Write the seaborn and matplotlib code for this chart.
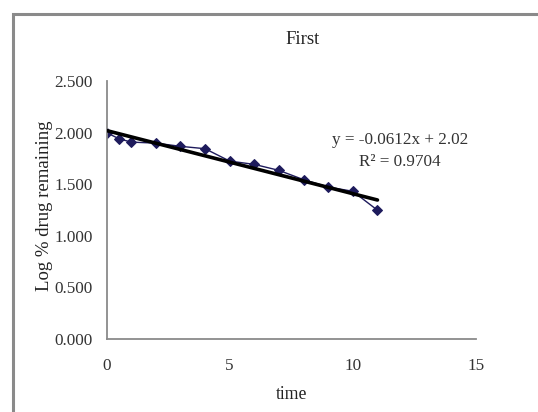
import numpy as np
import pandas as pd
import seaborn as sns
import matplotlib
matplotlib.use("Agg")
import matplotlib.pyplot as plt
from matplotlib.patches import Rectangle

# Data
time = [0, 0.5, 1, 2, 3, 4, 5, 6, 7, 8, 9, 10, 11]
log_remaining = [2.000, 1.941, 1.908, 1.898, 1.867, 1.844, 1.724, 1.692,
                 1.634, 1.544, 1.473, 1.431, 1.248]
slope = -0.0612
intercept = 2.02
r2 = 0.9704
x_ticks = [0, 5, 10, 15]
y_ticks = [0.0, 0.5, 1.0, 1.5, 2.0, 2.5]

sns.set_style("white")
plt.rcParams['font.family'] = ['Liberation Serif', 'DejaVu Serif']

df = pd.DataFrame({"time": time, "log": log_remaining})

fig = plt.figure(figsize=(5.38, 4.12), dpi=100)
ax = fig.add_axes([106.5 / 538, 73 / 412, 369.5 / 538, 258 / 412])

# outer chart frame (left and top edges visible)
fig.add_artist(Rectangle((13 / 538, -0.02), 1.2, (412 - 14) / 412 + 0.02,
                         transform=fig.transFigure, fill=False,
                         edgecolor="#8a8a8a", linewidth=2.2))

navy = "#1e1b5c"
sns.lineplot(data=df, x="time", y="log", ax=ax, color=navy, linewidth=1.0,
             marker="D", markersize=5.5, markeredgecolor=navy,
             markerfacecolor=navy)

trend_x = np.array([min(time), max(time)])
trend_y = intercept + slope * trend_x
ax.plot(trend_x, trend_y, color="black", linewidth=2.6, zorder=3)

ax.set_xlim(0, 15)
ax.set_ylim(0, 2.5)
ax.set_xticks(x_ticks)
ax.set_yticks(y_ticks)
ax.set_yticklabels([f"{v:.3f}" for v in y_ticks])
ax.tick_params(axis="both", labelsize=12.3, colors="#8a8a8a",
               labelcolor="#333333", length=4, width=1)
ax.tick_params(axis="y", direction="out", pad=6)
ax.tick_params(axis="x", direction="inout", pad=12)

for side in ["top", "right"]:
    ax.spines[side].set_visible(False)
for side in ["left", "bottom"]:
    ax.spines[side].set_color("#8a8a8a")
    ax.spines[side].set_linewidth(1.3)

ax.set_xlabel("time", fontsize=12.7, color="#222222", labelpad=8)
ax.set_ylabel("Log % drug remaining", fontsize=13.5, color="#222222")
ax.yaxis.set_label_coords((45 - 106.5) / 369.5, (339 - 206) / 258)
ax.yaxis.label.set_va("center")

fig.text(303 / 538, 1 - 40 / 412, "First", ha="center", va="center",
         fontsize=13.5, color="#222222")

fig.text(400 / 538, 1 - 140 / 412, f"y = {slope}x + {intercept}",
         ha="center", va="center", fontsize=12.3, color="#333333")
fig.text(400 / 538, 1 - 162 / 412, f"R² = {r2}", ha="center", va="center",
         fontsize=12.3, color="#333333")

fig.savefig("out.png", dpi=100)
